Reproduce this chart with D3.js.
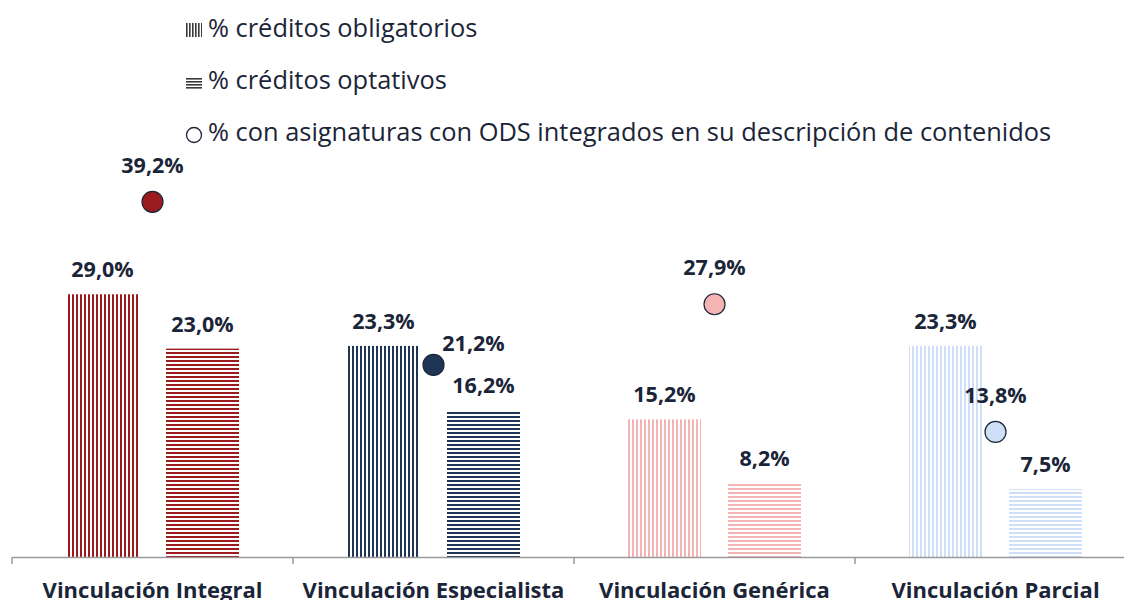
<!DOCTYPE html>
<html>
<head>
<meta charset="utf-8">
<script src="https://cdn.jsdelivr.net/npm/d3@7"></script>
<style>
  body { margin: 0; background: #fff; }
  svg text { font-family: "Open Sans", "Noto Sans", sans-serif; fill: #1b2538; }
</style>
</head>
<body>
<div id="chart"></div>
<script>
// data
var categories = ["Vinculación Integral", "Vinculación Especialista", "Vinculación Genérica", "Vinculación Parcial"];
var obligatorios = [29.0, 23.3, 15.2, 23.3];
var optativos = [23.0, 16.2, 8.2, 7.5];
var ods = [39.2, 21.2, 27.9, 13.8];
var colors = ["#9b1b1f", "#1f3556", "#f4b4b4", "#cfdff8"];
var legendLabels = ["% créditos obligatorios", "% créditos optativos", "% con asignaturas con ODS integrados en su descripción de contenidos"];

var width = 1124, height = 600;
var margin = {left: 12, right: -12, top: 0, bottom: 44};

var svg = d3.select("#chart").append("svg")
    .attr("width", width)
    .attr("height", height);

var fmt = function (v) { return v.toFixed(1).replace(".", ",") + "%"; };

var x = d3.scaleBand().domain(categories)
    .range([margin.left, width - margin.right]);
var xs = d3.scaleBand().domain(["obl", "opt"])
    .range([0, x.bandwidth()]).paddingInner(0.27).paddingOuter(0.54);
var y = d3.scaleLinear().domain([0, 10]).range([557, 466.4]);

// patterns
var defs = svg.append("defs");
colors.forEach(function (c, i) {
    var pv = defs.append("pattern").attr("id", "v" + i)
        .attr("patternUnits", "userSpaceOnUse").attr("width", 4).attr("height", 4);
    pv.append("rect").attr("width", 4).attr("height", 4).attr("fill", "#fff");
    pv.append("rect").attr("width", 2).attr("height", 4).attr("fill", c);
    var ph = defs.append("pattern").attr("id", "h" + i)
        .attr("patternUnits", "userSpaceOnUse").attr("width", 4).attr("height", 4);
    ph.append("rect").attr("width", 4).attr("height", 4).attr("fill", "#fff");
    ph.append("rect").attr("width", 4).attr("height", 2).attr("fill", c);
});
var lv = defs.append("pattern").attr("id", "lv")
    .attr("patternUnits", "userSpaceOnUse").attr("width", 3).attr("height", 3);
lv.append("rect").attr("width", 1.6).attr("height", 3).attr("fill", "#3a3a36");
var lh = defs.append("pattern").attr("id", "lh")
    .attr("patternUnits", "userSpaceOnUse").attr("width", 3).attr("height", 3);
lh.append("rect").attr("width", 3).attr("height", 1.6).attr("fill", "#3a3a36");

// bars
var g = svg.append("g");
categories.forEach(function (cat, i) {
    var x0 = x(cat);
    g.append("rect")
        .attr("x", x0 + xs("obl")).attr("y", y(obligatorios[i]))
        .attr("width", xs.bandwidth()).attr("height", y(0) - y(obligatorios[i]))
        .attr("fill", "url(#v" + i + ")");
    g.append("rect")
        .attr("x", x0 + xs("opt")).attr("y", y(optativos[i]))
        .attr("width", xs.bandwidth()).attr("height", y(0) - y(optativos[i]))
        .attr("fill", "url(#h" + i + ")");
    g.append("text")
        .attr("x", x0 + xs("obl") + xs.bandwidth() / 2).attr("y", y(obligatorios[i]) - 17)
        .attr("text-anchor", "middle").attr("font-size", 21.5).attr("font-weight", "bold")
        .text(fmt(obligatorios[i]));
    g.append("text")
        .attr("x", x0 + xs("opt") + xs.bandwidth() / 2).attr("y", y(optativos[i]) - 17)
        .attr("text-anchor", "middle").attr("font-size", 21.5).attr("font-weight", "bold")
        .text(fmt(optativos[i]));
});

// axis
var axis = svg.append("g")
    .attr("transform", "translate(0," + y(0) + ")")
    .call(d3.axisBottom(x).tickSizeInner(0).tickSizeOuter(0).tickFormat(""));
axis.select(".domain").attr("stroke", "#9a9a9a").attr("stroke-width", 1.5);
axis.selectAll(".sep")
    .data(categories).enter().append("line")
    .attr("class", "sep")
    .attr("x1", function (d) { return x(d); }).attr("x2", function (d) { return x(d); })
    .attr("y1", 0).attr("y2", 7)
    .attr("stroke", "#9a9a9a").attr("stroke-width", 1.5);

svg.selectAll(".cat").data(categories).enter().append("text")
    .attr("class", "cat")
    .attr("x", function (d) { return x(d) + x.bandwidth() / 2; })
    .attr("y", 598)
    .attr("text-anchor", "middle").attr("font-size", 22).attr("font-weight", "bold")
    .text(function (d) { return d; });

// ODS points
categories.forEach(function (cat, i) {
    var cx = x(cat) + x.bandwidth() / 2;
    g.append("circle")
        .attr("cx", cx).attr("cy", y(ods[i])).attr("r", 10.5)
        .attr("fill", colors[i]).attr("stroke", "#1b2538").attr("stroke-width", 1.2);
    var side = i === 1;
    g.append("text")
        .attr("x", side ? cx + 40 : cx)
        .attr("y", side ? y(ods[i]) - 14 : y(ods[i]) - 29)
        .attr("text-anchor", "middle").attr("font-size", 21.5).attr("font-weight", "bold")
        .text(fmt(ods[i]));
});

// legend
var legend = svg.append("g");
var ly = [30, 83, 135];
var lbase = [37, 89, 141];
legend.append("rect").attr("x", 186).attr("y", ly[0] - 7).attr("width", 16).attr("height", 14)
    .attr("fill", "url(#lv)");
legend.append("rect").attr("x", 186).attr("y", ly[1] - 6).attr("width", 16).attr("height", 13)
    .attr("fill", "url(#lh)");
legend.append("circle").attr("cx", 194).attr("cy", ly[2]).attr("r", 7.5)
    .attr("fill", "#fff").attr("stroke", "#1b2538").attr("stroke-width", 1.3);
legend.selectAll(".lt").data(legendLabels).enter().append("text")
    .attr("class", "lt")
    .attr("x", 208)
    .attr("y", function (d, i) { return lbase[i]; })
    .attr("font-size", 25.4)
    .text(function (d) { return d; });
</script>
</body>
</html>
